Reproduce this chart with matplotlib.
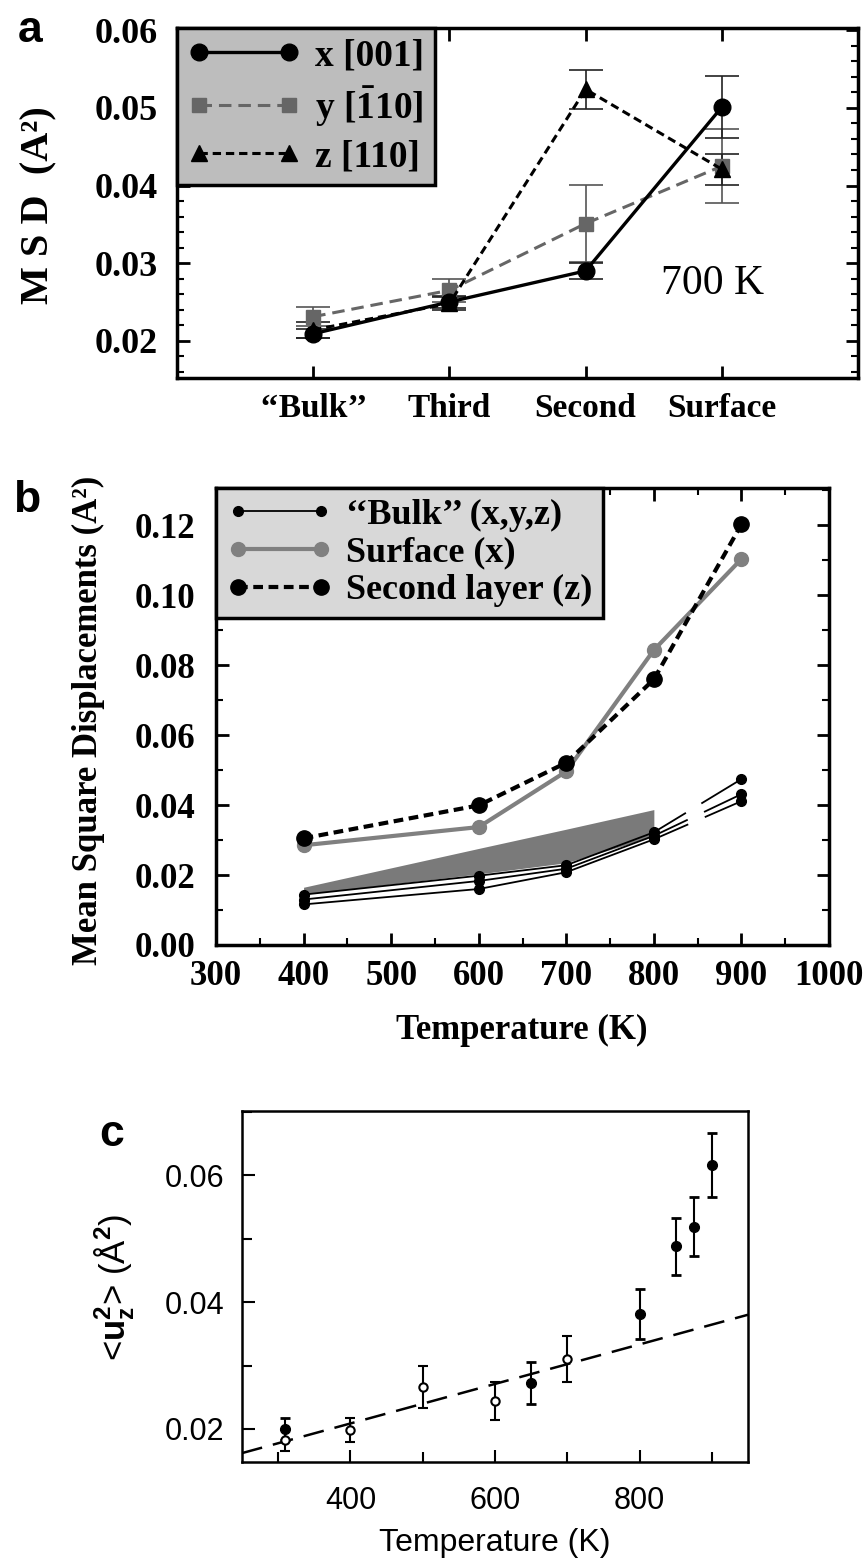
import matplotlib
matplotlib.use('Agg')
import matplotlib.pyplot as plt
from matplotlib.ticker import MultipleLocator

plt.rcParams['font.family'] = ['Liberation Serif', 'DejaVu Serif']
plt.rcParams['font.weight'] = 'bold'
plt.rcParams['mathtext.fontset'] = 'custom'
plt.rcParams['mathtext.rm'] = 'Liberation Serif'
plt.rcParams['mathtext.bf'] = 'Liberation Serif:bold'
plt.rcParams['mathtext.sf'] = 'Liberation Sans'
plt.rcParams['lines.scale_dashes'] = False

# ---- panel a: MSD per layer at 700 K
layers = ['‘‘Bulk’’', 'Third', 'Second', 'Surface']
msd_x = [0.0209, 0.0250, 0.0290, 0.0501]
err_x = [0.0006, 0.0008, 0.0010, 0.0040]
msd_y = [0.0231, 0.0265, 0.0351, 0.0425]
err_y = [0.0012, 0.0015, 0.0050, 0.0048]
msd_z = [0.0214, 0.0248, 0.0524, 0.0421]
err_z = [0.0010, 0.0008, 0.0025, 0.0020]

# ---- panel b: MSD vs temperature
temps_b = [400, 600, 700, 800, 900]
bulk_1 = [0.0144, 0.0198, 0.0228, 0.0322, 0.0474]
bulk_2 = [0.0130, 0.0183, 0.0218, 0.0312, 0.0431]
bulk_3 = [0.0116, 0.0160, 0.0208, 0.0302, 0.0411]
surface_x = [0.0285, 0.0337, 0.0496, 0.0843, 0.1103]
second_z = [0.0305, 0.0399, 0.0521, 0.0759, 0.1202]
band_T = [400, 600, 700, 800]
band_lo = [0.0145, 0.0203, 0.0235, 0.0310]
band_hi = [0.0165, 0.0276, 0.0331, 0.0387]

# ---- panel c: <u_z^2> vs temperature
open_T = [310, 400, 500, 600, 700]
open_u = [0.0182, 0.0199, 0.0266, 0.0244, 0.0310]
open_err = [0.0016, 0.0019, 0.0033, 0.0030, 0.0036]
filled_T = [310, 650, 800, 850, 875, 900]
filled_u = [0.0200, 0.0272, 0.0381, 0.0488, 0.0519, 0.0616]
filled_err = [0.0017, 0.0033, 0.0040, 0.0045, 0.0046, 0.0050]
fit_T = [250, 950]
fit_u = [0.0162, 0.0380]

W, H = 866, 1565
fig = plt.figure(figsize=(W / 100, H / 100), dpi=100)


def rect(l, t, r, b):
    return [l / W, 1 - b / H, (r - l) / W, (b - t) / H]


def frame(ax, lw):
    for s in ax.spines.values():
        s.set_linewidth(lw)


# ================= panel a
ax = fig.add_axes(rect(177, 28, 858, 378))
xs = list(range(len(layers)))
ax.errorbar(xs, msd_y, yerr=err_y, fmt='none', ecolor='#555555',
            elinewidth=1.2, capsize=12, capthick=1.2, zorder=2)
ax.errorbar(xs, msd_z, yerr=err_z, fmt='none', ecolor='#222222',
            elinewidth=1.2, capsize=12, capthick=1.2, zorder=2)
ax.errorbar(xs, msd_x, yerr=err_x, fmt='none', ecolor='#222222',
            elinewidth=1.2, capsize=12, capthick=1.2, zorder=2)
ly, = ax.plot(xs, msd_y, color='#666666', lw=2.2, ls=(0, (9, 5)),
              marker='s', ms=10, label=r'y [$\mathbf{\bar{1}}$10]', zorder=3)
lz, = ax.plot(xs, msd_z, color='black', lw=2.2, ls=(0, (6, 3.5)),
              marker='^', ms=11, label='z [110]', zorder=4)
lx, = ax.plot(xs, msd_x, color='black', lw=2.4, marker='o', ms=12,
              label='x [001]', zorder=5)
ax.set_xlim(-1, 4)
ax.set_ylim(0.0152, 0.0603)
ax.set_xticks(xs, layers)
ax.yaxis.set_major_locator(MultipleLocator(0.01))
ax.yaxis.set_minor_locator(MultipleLocator(0.002))
ax.tick_params(which='both', direction='in', top=True, right=True)
ax.tick_params(which='major', length=9, width=2)
ax.tick_params(which='minor', length=5, width=1.5)
ax.tick_params(axis='y', labelsize=26, pad=14)
ax.tick_params(axis='x', labelsize=24, pad=11)
frame(ax, 2.5)
ax.text(2.93, 0.0274, '700 K', fontsize=30, fontweight='normal',
        ha='center', va='center')
leg = ax.legend(handles=[lx, ly, lz], loc='upper left', bbox_to_anchor=(0, 1),
                borderaxespad=0, fontsize=27, numpoints=2, handlelength=3.0,
                handletextpad=0.4, labelspacing=0.28, borderpad=0.28,
                fancybox=False, framealpha=1, facecolor='#bdbdbd',
                edgecolor='black')
leg.get_frame().set_linewidth(2.5)
fig.text(39 / W, 1 - 205 / H, 'M S D  (A\u00b2)', rotation=90, fontsize=29,
         ha='center', va='center')
fig.text(30 / W, 1 - 31 / H, 'a', family='Liberation Sans', fontsize=32,
         ha='center', va='center')

# ================= panel b
ax = fig.add_axes(rect(216, 488, 829, 945))
ax.fill_between(band_T, band_lo, band_hi, color='#7a7a7a', lw=0, zorder=1)
for bulk in [bulk_1, bulk_2, bulk_3]:
    ax.plot(temps_b[:4], bulk[:4], color='black', lw=1.3, zorder=2)
    # the 800-900 K segment is broken in the original
    ax.plot(temps_b[3:], bulk[3:], color='black', lw=1.3,
            ls=(0, (27, 13, 45, 200)), zorder=2)
    ax.plot(temps_b, bulk, ls='none', color='black', marker='o', ms=7,
            zorder=3)
lb, = ax.plot([], [], color='black', lw=1.3, marker='o', ms=7,
              label='‘‘Bulk’’ (x,y,z)')
ls_, = ax.plot(temps_b, surface_x, color='#808080', lw=3, marker='o', ms=10,
               label='Surface (x)', zorder=4)
lz2, = ax.plot(temps_b, second_z, color='black', lw=3, ls=(0, (7, 4)),
               marker='o', ms=11, label='Second layer (z)', zorder=5)
ax.set_xlim(300, 1000)
ax.set_ylim(0, 0.1306)
ax.xaxis.set_major_locator(MultipleLocator(100))
ax.xaxis.set_minor_locator(MultipleLocator(50))
ax.yaxis.set_major_locator(MultipleLocator(0.02))
ax.yaxis.set_minor_locator(MultipleLocator(0.01))
ax.tick_params(which='both', direction='in', top=True, right=True)
ax.tick_params(which='major', length=9, width=2)
ax.tick_params(which='minor', length=5, width=1.5)
ax.tick_params(axis='y', labelsize=25, pad=15)
ax.tick_params(axis='x', labelsize=25, pad=11)
frame(ax, 2.5)
leg = ax.legend(handles=[lb, ls_, lz2], loc='upper left', bbox_to_anchor=(0, 1),
                borderaxespad=0, fontsize=26, numpoints=2, handlelength=2.9,
                handletextpad=0.4, labelspacing=0.12, borderpad=0.3,
                fancybox=False, framealpha=1, facecolor='#d8d8d8',
                edgecolor='black')
leg.get_frame().set_linewidth(2.5)
fig.text(88 / W, 1 - 720 / H, 'Mean Square Displacements (A\u00b2)',
         rotation=90, fontsize=25, ha='center', va='center')
fig.text(522 / W, 1 - 1030 / H, 'Temperature (K)', fontsize=25,
         ha='center', va='center')
fig.text(27 / W, 1 - 500 / H, 'b', family='Liberation Sans', fontsize=32,
         ha='center', va='center')

# ================= panel c
ax = fig.add_axes(rect(242, 1111, 748, 1462))
ax.plot(fit_T, fit_u, color='black', lw=1.8, ls=(0, (15, 8)), zorder=1)
ax.errorbar(open_T, open_u, yerr=open_err, fmt='o', color='black',
            mfc='white', mec='black', mew=1.5, ms=6, elinewidth=1.5,
            capsize=3.5, capthick=2, zorder=3)
ax.errorbar(filled_T, filled_u, yerr=filled_err, fmt='o', color='black',
            ms=7, elinewidth=1.5, capsize=3.5, capthick=2, zorder=3)
ax.set_xlim(250, 950)
ax.set_ylim(0.0148, 0.0701)
ax.set_xticks([400, 600, 800])
ax.xaxis.set_minor_locator(MultipleLocator(100))
ax.set_yticks([0.02, 0.04, 0.06])
ax.yaxis.set_minor_locator(MultipleLocator(0.01))
ax.tick_params(which='both', direction='in', width=1.5)
ax.tick_params(which='major', length=9)
ax.tick_params(which='minor', length=7)
ax.tick_params(axis='y', labelsize=22, pad=13)
ax.tick_params(axis='x', labelsize=22, pad=17)
for lbl in ax.get_xticklabels() + ax.get_yticklabels():
    lbl.set_family('Liberation Sans')
    lbl.set_weight('normal')
frame(ax, 1.8)
fig.text(495 / W, 1 - 1543 / H, 'Temperature (K)', family='Liberation Sans',
         fontweight='normal', fontsize=23, ha='center', va='center')
fig.text(115 / W, 1 - 1287 / H, r'<$\mathsf{u_z^2}$> (Å$^\mathsf{2}$)',
         family='Liberation Sans', fontweight='normal', fontsize=25,
         rotation=90, ha='center', va='center')
fig.text(112 / W, 1 - 1134 / H, 'c', family='Liberation Sans', fontsize=32,
         ha='center', va='center')

fig.savefig('out.png', dpi=100)
